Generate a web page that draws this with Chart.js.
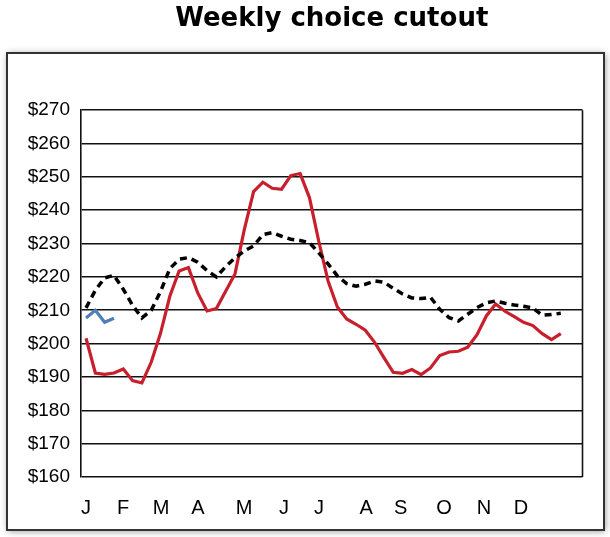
<!DOCTYPE html>
<html><head><meta charset="utf-8">
<script src="https://cdn.jsdelivr.net/npm/chart.js@4/dist/chart.umd.min.js"></script>
<style>html,body{margin:0;padding:0;background:#fff;}canvas{display:block;}</style>
</head><body>
<canvas id="c" width="610" height="537"></canvas>
<script>
// Week numbers (x categories)
const weeks = [1,2,3,4,5,6,7,8,9,10,11,12,13,14,15,16,17,18,19,20,21,22,23,24,25,26,
  27,28,29,30,31,32,33,34,35,36,37,38,39,40,41,42,43,44,45,46,47,48,49,50,51,52];
// Month tick labels and their positions (in weeks)
const monthLabels = ['J','F','M','A','M','J','J','A','S','O','N','D'];
const monthWeeks = [1,4.97,9.06,13.03,17.97,22.27,26.03,31.08,34.8,39.45,43.75,47.72];
// Y tick values
const yTicks = [160,170,180,190,200,210,220,230,240,250,260,270];

// Series (dollars per cwt)
const avgSeries = [210.7,216,219.7,220.5,216.3,211.5,207.7,210,215.6,222.5,225.3,225.8,224.4,221.9,220,223.1,
  225.7,227.8,229.3,232.7,233.3,232.2,231.3,230.9,230.3,227.2,223.9,220.3,218,217.2,217.8,218.8,218.4,216.6,
  214.9,213.7,213.5,213.9,210.3,207.8,206.8,208.8,210.8,212.2,212.8,212.1,211.6,211.2,210.7,208.5,208.7,209.1];
const lastYear = [201.6,191.2,190.8,191.2,192.4,188.9,188.2,194.4,203.1,214.2,221.8,222.8,215.2,209.8,210.5,215.7,
  220.9,234.2,245.6,248.4,246.6,246.3,250.4,251,243.8,230.7,218.8,211,207.4,205.8,204,200.4,195.8,191.4,
  191.1,192.2,190.7,192.7,196.4,197.5,197.7,198.9,202.7,208.3,211.9,209.7,208.1,206.4,205.4,203,201.2,203];
const thisYear = [207.7,210,206.4,207.6];

const toXY = arr => arr.map((v,i)=>({x:weeks[i], y:v}));

const framePlugin = {
  id:'frame',
  beforeDraw(chart){
    const ctx = chart.ctx;
    ctx.save();
    ctx.fillStyle = '#fff';
    ctx.fillRect(0,0,chart.width,chart.height);
    ctx.shadowColor = 'rgba(0,0,0,0.45)';
    ctx.shadowBlur = 7;
    ctx.shadowOffsetX = 1;
    ctx.shadowOffsetY = 1;
    ctx.fillRect(7,53,597,477);
    ctx.restore();
    ctx.save();
    ctx.strokeStyle = '#333';
    ctx.lineWidth = 2;
    ctx.strokeRect(7,53,597,477);
    ctx.restore();
  },
  beforeDatasetsDraw(chart){
    const a = chart.chartArea, ctx = chart.ctx;
    ctx.save();
    ctx.strokeStyle = '#111';
    ctx.lineWidth = 1.6;
    ctx.beginPath();
    ctx.moveTo(a.right, a.top); ctx.lineTo(a.right, a.bottom);
    ctx.stroke();
    ctx.restore();
  }
};

new Chart(document.getElementById('c'), {
  type:'line',
  data:{
    datasets:[
      {label:'5-yr avg', data:toXY(avgSeries), borderColor:'#000', borderWidth:3.5, borderDash:[7,5], pointRadius:0, tension:0, fill:false},
      {label:'Last year', data:toXY(lastYear), borderColor:'#c81f2d', borderWidth:3.2, pointRadius:0, tension:0, fill:false},
      {label:'This year', data:toXY(thisYear), borderColor:'#4f7fb4', borderWidth:3.2, pointRadius:0, tension:0, fill:false}
    ]
  },
  options:{
    responsive:false, animation:false, devicePixelRatio:1,
    layout:{padding:{left:7, right:27.5, top:0, bottom:17}},
    plugins:{
      legend:{display:false}, tooltip:{enabled:false},
      title:{display:true, text:'Weekly choice cutout', fullSize:false, color:'#000',
        font:{family:'DejaVu Sans', weight:'bold', size:26}, padding:{top:4, bottom:75}}
    },
    scales:{
      x:{type:'linear', min:0.46, max:54.33,
        grid:{display:false, drawTicks:false}, border:{display:false},
        afterBuildTicks(s){ s.ticks = monthWeeks.map(v=>({value:v})); },
        afterFit(s){ s.height = 43; },
        ticks:{autoSkip:false, maxRotation:0, padding:19, color:'#000',
          font:{family:'Liberation Sans', size:20},
          callback:(v,i)=>monthLabels[i]}
      },
      y:{min:160, max:270,
        afterBuildTicks(s){ s.ticks = yTicks.map(v=>({value:v})); },
        afterFit(s){ s.width = 74; },
        grid:{color:'#111', lineWidth:1.6, drawTicks:false},
        border:{display:true, color:'#111', width:1.6},
        ticks:{padding:11, color:'#000', font:{family:'Liberation Sans', size:19},
          callback:v=>'$'+v}
      }
    }
  },
  plugins:[framePlugin]
});
</script>
</body></html>
